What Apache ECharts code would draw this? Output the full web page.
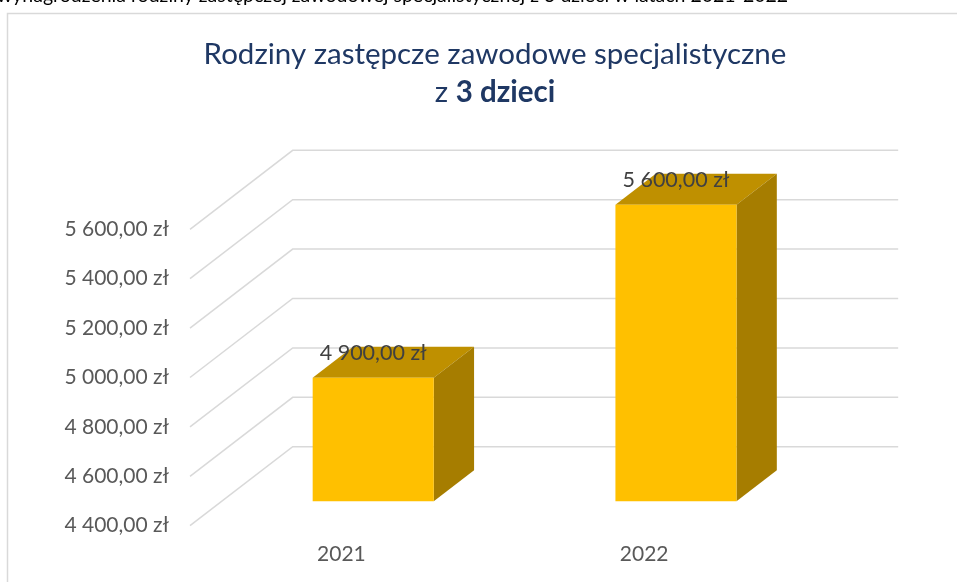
<!DOCTYPE html>
<html>
<head>
<meta charset="utf-8">
<script src="https://cdn.jsdelivr.net/npm/echarts@6/dist/echarts.min.js"></script>
<style>
  html, body { margin: 0; padding: 0; background: #fff; }
  #main { width: 957px; height: 582px; }
</style>
</head>
<body>
<div id="main"></div>
<script>
// dane
var years = ['2021', '2022'];
var payValues = [4900, 5600];
var yTicks = [4400, 4600, 4800, 5000, 5200, 5400, 5600];

var FONT = 'Lato, "Open Sans", sans-serif';

// przesuniecie "w glab" (pseudo 3D jak w Excelu)
function shift(pt, d) {
  return [pt[0] + d * 1.3, pt[1] - d];
}
var BAR_FRONT = 24.5, BAR_BACK = 55.5, WALL = 79;

function zl(v) {
  var s = Math.round(v).toString().replace(/\B(?=(\d{3})+(?!\d))/g, ' ');
  return s + ',00 zł';
}

var myChart = echarts.init(document.getElementById('main'));

var option = {
  backgroundColor: '#fff',
  animation: false,
  title: {
    text: 'Rodziny zastępcze zawodowe specjalistyczne\n{n|z }{b|3 dzieci}',
    left: 490,
    top: 30,
    textAlign: 'center',
    textStyle: {
      fontFamily: FONT,
      fontSize: 29.5,
      fontWeight: 'normal',
      color: '#1F3864',
      lineHeight: 38,
      rich: {
        n: { fontFamily: FONT, fontSize: 29.5, color: '#1F3864', lineHeight: 38 },
        b: { fontFamily: FONT, fontSize: 29.5, fontWeight: 'bold', color: '#1F3864', lineHeight: 38 }
      }
    }
  },
  graphic: [
    { // ramka wykresu
      type: 'rect', z: -10,
      shape: { x: 7.5, y: 13.5, width: 1000, height: 700 },
      style: { fill: 'none', stroke: '#d9d9d9', lineWidth: 1.5 }
    },
    { // ucięty podpis nad wykresem
      type: 'text', x: -3, y: 6, z: -10,
      style: {
        text: 'wynagrodzenia rodziny zastępczej zawodowej specjalistycznej z 3 dzieci w latach 2021-2022',
        font: '19.5px ' + FONT, fill: '#000', textVerticalAlign: 'bottom'
      }
    }
  ],
  grid: {
    left: 190,
    right: 161.5,
    top: 229.3,
    bottom: 56.3,
    containLabel: false,
    outerBoundsMode: 'none'
  },
  xAxis: {
    type: 'category',
    data: years,
    axisLine: { show: false },
    axisTick: { show: false },
    axisLabel: { margin: 18, fontFamily: FONT, fontSize: 21, color: '#595959' },
    splitLine: { show: false }
  },
  yAxis: {
    type: 'value',
    min: 4400,
    max: 5600,
    interval: 200,
    axisLine: { show: false },
    axisTick: { show: false },
    splitLine: { show: false },
    axisLabel: {
      margin: 21,
      fontFamily: FONT,
      fontSize: 21,
      color: '#595959',
      formatter: zl
    }
  },
  series: [
    { // linie siatki: skos + tylna sciana
      type: 'custom',
      silent: true,
      z: 1,
      data: yTicks.map(function (v) { return [0, v]; }),
      renderItem: function (params, api) {
        var cs = params.coordSys;
        var p = api.coord([0, api.value(1)]);
        var a = [cs.x, p[1]];
        var b = shift(a, WALL);
        var c = [cs.x + cs.width + WALL * 1.3, b[1]];
        return {
          type: 'polyline',
          shape: { points: [a, b, c] },
          style: { stroke: '#d9d9d9', lineWidth: 1.5, fill: null }
        };
      }
    },
    { // slupki 3D
      type: 'custom',
      z: 2,
      data: payValues.map(function (v, i) { return [i, v]; }),
      renderItem: function (params, api) {
        var i = api.value(0), v = api.value(1);
        var w = api.size([1, 0])[0] * 0.4;
        var base = api.coord([i, 4400]);
        var top = api.coord([i, v]);
        var fl = shift([base[0] - w / 2, top[1]], BAR_FRONT);   // front lewy gora
        var fr = shift([base[0] + w / 2, top[1]], BAR_FRONT);
        var bl = shift([base[0] - w / 2, base[1]], BAR_FRONT);  // front lewy dol
        var br = shift([base[0] + w / 2, base[1]], BAR_FRONT);
        var d = BAR_BACK - BAR_FRONT;
        var tl = shift(fl, d), tr = shift(fr, d), sb = shift(br, d);
        return {
          type: 'group',
          children: [
            { type: 'polygon', shape: { points: [fl, fr, tr, tl] }, style: { fill: '#BF9000' } },
            { type: 'polygon', shape: { points: [fr, tr, sb, br] }, style: { fill: '#A67D00' } },
            { type: 'polygon', shape: { points: [fl, fr, br, bl] }, style: { fill: '#FFC000' } },
            {
              type: 'text',
              x: (fl[0] + fr[0]) / 2,
              y: fl[1] - 25,
              style: {
                text: zl(v),
                font: '21.5px ' + FONT,
                fill: '#404040',
                textAlign: 'center',
                textVerticalAlign: 'middle'
              }
            }
          ]
        };
      }
    }
  ]
};

myChart.setOption(option);
</script>
</body>
</html>
